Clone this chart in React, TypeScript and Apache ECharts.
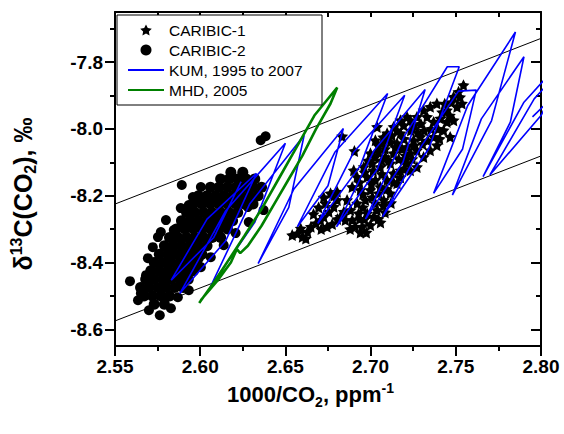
import React, { useEffect, useRef } from "react";
import * as echarts from "echarts";

const FONT = "'Liberation Sans', Arial, sans-serif";

const yMajorTicks = [-8.6, -8.4, -8.2, -8.0, -7.8];
const yMinorTicks = [-8.5, -8.3, -8.1, -7.9, -7.7];

const upperBound = [[2.55, -8.225], [2.80, -7.729]];
const lowerBound = [[2.55, -8.575], [2.80, -8.081]];

const caribic1Low = [
  [2.657, -8.313], [2.66, -8.323], [2.663, -8.308], [2.659, -8.298], [2.665, -8.293],
  [2.668, -8.283], [2.662, -8.328], [2.654, -8.318], [2.671, -8.3],
  [2.6725, -8.263], [2.6755, -8.248], [2.6784, -8.233], [2.6804, -8.213], [2.6765, -8.193],
  [2.6735, -8.223], [2.6706, -8.273], [2.6823, -8.263], [2.6745, -8.293], [2.6804, -8.188],
  [2.6843, -8.248], [2.6833, -8.022], [2.6905, -8.066],
  [2.6862, -8.213], [2.6882, -8.243], [2.6852, -8.273], [2.6892, -8.273], [2.6892, -8.174], [2.6901, -8.124],
  [2.6665, -8.255], [2.6695, -8.235], [2.6725, -8.205], [2.6785, -8.2], [2.6805, -8.27], [2.6775, -8.285],
];
const caribic1Mid = [
  [2.6911, -8.293], [2.695, -8.293], [2.6999, -8.288], [2.693, -8.253], [2.698, -8.253],
  [2.7018, -8.263], [2.6921, -8.223], [2.697, -8.213], [2.7028, -8.223], [2.694, -8.183],
  [2.6999, -8.183], [2.7047, -8.193], [2.6921, -8.144], [2.698, -8.144], [2.7028, -8.153],
  [2.696, -8.114], [2.7009, -8.103], [2.7057, -8.114], [2.6999, -8.073], [2.7047, -8.069],
  [2.7028, -8.034], [2.7067, -8.043], [2.7097, -8.013], [2.7116, -8.039], [2.7087, -8.084],
  [2.7116, -8.103], [2.7135, -8.073], [2.7155, -8.043], [2.7175, -8.013], [2.7135, -7.994],
  [2.7194, -7.989], [2.7214, -7.964], [2.7175, -7.974], [2.7038, -7.994], [2.7097, -8.024],
  [2.7057, -8.174], [2.7097, -8.153], [2.7135, -8.133], [2.7175, -8.124], [2.7214, -8.103],
  [2.7116, -8.193], [2.7077, -8.213], [2.7038, -8.243], [2.7155, -8.163],
  [2.7058, -8.28], [2.7085, -8.25], [2.712, -8.222], [2.694, -8.31], [2.688, -8.3],
  [2.701, -8.205], [2.6955, -8.235], [2.7065, -8.135], [2.7105, -8.095], [2.7015, -8.125],
  [2.6935, -8.27], [2.6965, -8.27], [2.6955, -8.195], [2.6935, -8.16], [2.6965, -8.13],
  [2.7005, -8.165], [2.6985, -8.095], [2.7025, -8.085], [2.7065, -8.095], [2.7045, -8.05],
  [2.7085, -8.06], [2.7075, -8.025], [2.7125, -8.02], [2.7145, -8.055], [2.7155, -8.005],
  [2.7165, -8.09], [2.7175, -8.145], [2.7195, -8.12], [2.7135, -8.16], [2.7095, -8.18],
  [2.7075, -8.23], [2.7045, -8.27], [2.6975, -8.31],
];
const caribic1High = [
  [2.7233, -7.974], [2.7272, -7.964], [2.7311, -7.944], [2.735, -7.934], [2.7389, -7.924],
  [2.7331, -7.964], [2.737, -7.979], [2.7409, -7.969], [2.7448, -7.979], [2.7487, -7.974],
  [2.7428, -8.004], [2.7467, -8.024], [2.737, -8.024], [2.7389, -8.049], [2.735, -8.064],
  [2.7311, -8.084], [2.7272, -8.114], [2.7233, -8.124], [2.7194, -8.094], [2.7487, -7.904],
  [2.7516, -7.889], [2.7545, -7.869], [2.7536, -7.924], [2.7507, -7.934], [2.7448, -7.944],
  [2.7214, -8.054], [2.7252, -8.034], [2.7292, -8.024], [2.7272, -8.064], [2.7233, -8.073],
  [2.7255, -7.99], [2.7295, -7.985], [2.7195, -8.03], [2.7315, -8.005], [2.742, -7.95],
  [2.7185, -8.06], [2.7205, -8.08], [2.7245, -8.09], [2.7255, -8.05], [2.7235, -8.005],
  [2.7275, -8.01], [2.7305, -8.045], [2.7335, -8.035], [2.7355, -8.0], [2.7395, -8.0],
  [2.7405, -8.03], [2.7435, -7.925], [2.7465, -7.96], [2.7475, -7.92], [2.7525, -7.905],
];

const caribic2Outer = [
  [2.6355, -8.034], [2.6384, -8.022], [2.5892, -8.168], [2.6004, -8.174], [2.5588, -8.456],
  [2.5682, -8.438], [2.5693, -8.387], [2.5722, -8.354], [2.5752, -8.324], [2.5769, -8.309],
  [2.5799, -8.273], [2.5845, -8.303], [2.5886, -8.237], [2.5933, -8.228], [2.5957, -8.204],
  [2.5828, -8.372], [2.5635, -8.513], [2.5699, -8.543], [2.5763, -8.558], [2.5828, -8.537],
  [2.5869, -8.504], [2.5933, -8.483], [2.5652, -8.492], [2.6279, -8.234], [2.6372, -8.243],
  [2.6285, -8.279], [2.6208, -8.312], [2.6138, -8.348], [2.6062, -8.384], [2.6004, -8.414],
  [2.5992, -8.387],
];
const caribic2Upper = [
  [2.618, -8.13], [2.625, -8.13],
  [2.612, -8.15], [2.617, -8.15], [2.622, -8.15], [2.627, -8.15], [2.632, -8.15],
  [2.606, -8.175], [2.611, -8.175], [2.616, -8.175], [2.621, -8.175], [2.626, -8.175], [2.631, -8.175], [2.636, -8.175],
  [2.599, -8.2], [2.604, -8.2], [2.609, -8.2], [2.614, -8.2], [2.619, -8.2], [2.624, -8.2], [2.629, -8.2], [2.634, -8.2],
  [2.596, -8.225], [2.601, -8.225], [2.606, -8.225], [2.611, -8.225], [2.616, -8.225], [2.621, -8.225], [2.626, -8.225], [2.631, -8.225],
  [2.592, -8.25], [2.597, -8.25], [2.602, -8.25], [2.607, -8.25], [2.612, -8.25], [2.617, -8.25], [2.622, -8.25],
  [2.589, -8.275], [2.594, -8.275], [2.599, -8.275], [2.604, -8.275], [2.609, -8.275], [2.614, -8.275], [2.619, -8.275],
  [2.586, -8.3], [2.591, -8.3], [2.596, -8.3], [2.601, -8.3], [2.606, -8.3], [2.611, -8.3], [2.616, -8.3],
];
const caribic2Lower = [
  [2.582, -8.325], [2.587, -8.325], [2.592, -8.325], [2.597, -8.325], [2.602, -8.325], [2.607, -8.325], [2.612, -8.325],
  [2.579, -8.35], [2.584, -8.35], [2.589, -8.35], [2.594, -8.35], [2.599, -8.35], [2.604, -8.35],
  [2.576, -8.375], [2.581, -8.375], [2.586, -8.375], [2.591, -8.375], [2.596, -8.375], [2.601, -8.375],
  [2.573, -8.4], [2.578, -8.4], [2.583, -8.4], [2.588, -8.4], [2.593, -8.4], [2.598, -8.4],
  [2.571, -8.425], [2.576, -8.425], [2.581, -8.425], [2.586, -8.425], [2.591, -8.425], [2.596, -8.425],
  [2.568, -8.45], [2.573, -8.45], [2.578, -8.45], [2.583, -8.45], [2.588, -8.45], [2.593, -8.45],
  [2.565, -8.475], [2.57, -8.475], [2.575, -8.475], [2.58, -8.475], [2.585, -8.475], [2.59, -8.475],
  [2.567, -8.5], [2.572, -8.5], [2.577, -8.5], [2.582, -8.5],
  [2.573, -8.525], [2.579, -8.525],
];

const kum = [
  [2.795, -7.964], [2.816, -7.86], [2.83, -7.72], [2.796, -7.91], [2.77, -8.138],
  [2.8, -7.96], [2.822, -7.74], [2.79, -7.92], [2.766, -8.143], [2.782, -7.98],
  [2.79, -7.784], [2.765, -7.97], [2.748, -8.198], [2.771, -7.975], [2.785, -7.71],
  [2.757, -7.93], [2.737, -8.193], [2.754, -8.06], [2.762, -7.884], [2.7516, -7.887],
  [2.73, -8.05], [2.707, -8.263], [2.734, -8.06], [2.752, -7.814], [2.745, -7.814],
  [2.72, -8.02], [2.697, -8.27], [2.719, -8.1], [2.732, -7.882], [2.702, -8.065],
  [2.68, -8.293], [2.704, -8.12], [2.72, -7.899], [2.69, -8.07], [2.669, -8.283],
  [2.694, -8.11], [2.71, -7.894], [2.679, -8.07], [2.657, -8.293], [2.675, -8.17],
  [2.684, -7.999], [2.655, -8.18], [2.634, -8.403], [2.652, -8.235], [2.661, -8.019],
  [2.629, -8.225], [2.606, -8.473], [2.632, -8.28], [2.65, -8.043], [2.615, -8.245],
  [2.588, -8.493], [2.615, -8.335], [2.633, -8.133], [2.604, -8.27], [2.583, -8.453],
  [2.608, -8.325], [2.624, -8.158],
];

const mhd = [
  [2.5994, -8.521], [2.608, -8.46], [2.617, -8.39], [2.626, -8.32], [2.636, -8.24],
  [2.646, -8.15], [2.656, -8.06], [2.667, -7.96], [2.6804, -7.876], [2.6765, -7.924],
  [2.668, -8.0], [2.66, -8.08], [2.652, -8.15], [2.644, -8.22], [2.636, -8.29],
  [2.628, -8.35], [2.6235, -8.372], [2.6215, -8.36], [2.618, -8.4], [2.61, -8.455],
  [2.6003, -8.513],
];

const STAR =
  "path://M50,2L64.7,31.8L97.6,36.5L73.8,59.7L79.4,92.5L50,77L20.6,92.5L26.2,59.7L2.4,36.5L35.3,31.8Z";

const black = "#000";
const richFor = (size: number) => ({
  sup: { fontSize: size, fontWeight: "bold", fontFamily: FONT, color: black, verticalAlign: "top", lineHeight: size + 1 },
  sub: { fontSize: size, fontWeight: "bold", fontFamily: FONT, color: black, verticalAlign: "bottom", lineHeight: size + 1 },
});

function yAxisBase(position: string) {
  return {
    type: "value",
    min: -8.65,
    max: -7.65,
    position,
    splitLine: { show: false },
    axisLabel: { show: false },
  };
}

export default function App() {
  const ref = useRef<HTMLDivElement>(null);
  useEffect(() => {
    if (!ref.current) return;
    const chart = echarts.init(ref.current, undefined, { renderer: "svg" });
    const lineW = { color: black, width: 2 };
    const core = [...caribic2Upper, ...caribic2Lower].map((p) => ({ value: p, symbolSize: 11 }));
    const option: any = {
      animation: false,
      backgroundColor: "#fff",
      textStyle: { fontFamily: FONT },
      grid: { left: 114, right: 23, top: 12, bottom: 88, containLabel: false },
      legend: {
        orient: "vertical",
        left: 117,
        top: 15,
        padding: [6, 10, 6, 10],
        itemGap: 2,
        itemWidth: 36,
        itemHeight: 11,
        borderColor: black,
        borderWidth: 1,
        backgroundColor: "#fff",
        selectedMode: false,
        textStyle: { fontSize: 15.5, color: black, lineHeight: 18, width: 143, fontFamily: FONT },
        data: [
          { name: "CARIBIC-1" },
          { name: "CARIBIC-2" },
          { name: "KUM, 1995 to 2007", itemStyle: { opacity: 0 } },
          { name: "MHD, 2005", itemStyle: { opacity: 0 } },
        ],
      },
      xAxis: [
        {
          type: "value",
          min: 2.55,
          max: 2.8,
          interval: 0.05,
          position: "bottom",
          axisLine: { show: true, onZero: false, lineStyle: lineW },
          axisTick: { show: true, inside: false, length: 10, lineStyle: lineW },
          minorTick: { show: true, splitNumber: 2, length: 5, lineStyle: lineW },
          splitLine: { show: false },
          minorSplitLine: { show: false },
          axisLabel: {
            margin: 11,
            fontSize: 19,
            fontWeight: "bold",
            color: black,
            fontFamily: FONT,
            formatter: (v: number) => v.toFixed(2),
          },
          name: "1000/CO{sub|2}, ppm{sup|-1}",
          nameLocation: "middle",
          nameGap: 24,
          nameTextStyle: {
            fontSize: 22,
            fontWeight: "bold",
            color: black,
            fontFamily: FONT,
            lineHeight: 28,
            padding: [0, 35, 0, 0],
            rich: richFor(14),
          },
        },
        {
          type: "value",
          min: 2.55,
          max: 2.8,
          interval: 0.025,
          position: "top",
          axisLine: { show: true, onZero: false, lineStyle: lineW },
          axisTick: { show: true, inside: true, length: 5, lineStyle: lineW },
          axisLabel: { show: false },
          splitLine: { show: false },
        },
      ],
      yAxis: [
        {
          ...yAxisBase("left"),
          axisLine: { show: true, onZero: false, lineStyle: lineW },
          axisTick: { show: true, customValues: yMajorTicks, length: 10, lineStyle: lineW },
          axisLabel: {
            show: true,
            customValues: yMajorTicks,
            margin: 12,
            fontSize: 19,
            fontWeight: "bold",
            color: black,
            fontFamily: FONT,
            formatter: (v: number) => v.toFixed(1),
          },
          name: "δ{sup|13}C(CO{sub|2}), ‰",
          nameLocation: "middle",
          nameRotate: 90,
          nameGap: 77,
          nameTextStyle: {
            fontSize: 25,
            fontWeight: "bold",
            color: black,
            fontFamily: FONT,
            lineHeight: 30,
            padding: [0, 30, 0, 0],
            rich: richFor(16),
          },
        },
        {
          ...yAxisBase("left"),
          axisLine: { show: false },
          axisTick: { show: true, customValues: yMinorTicks, length: 5, lineStyle: lineW },
        },
        {
          ...yAxisBase("right"),
          axisLine: { show: true, onZero: false, lineStyle: lineW },
          axisTick: { show: true, inside: true, customValues: yMajorTicks, length: 10, lineStyle: lineW },
        },
        {
          ...yAxisBase("right"),
          axisLine: { show: false },
          axisTick: { show: true, inside: true, customValues: yMinorTicks, length: 5, lineStyle: lineW },
        },
      ],
      series: [
        {
          name: "upper bound",
          type: "line",
          data: upperBound,
          symbol: "none",
          silent: true,
          lineStyle: { color: black, width: 1 },
          itemStyle: { color: black },
        },
        {
          name: "lower bound",
          type: "line",
          data: lowerBound,
          symbol: "none",
          silent: true,
          lineStyle: { color: black, width: 1 },
          itemStyle: { color: black },
        },
        {
          name: "CARIBIC-1",
          type: "scatter",
          symbol: STAR,
          symbolSize: 12,
          itemStyle: { color: black, opacity: 1 },
          data: [...caribic1Low, ...caribic1Mid, ...caribic1High],
        },
        {
          name: "CARIBIC-2",
          type: "scatter",
          symbol: "circle",
          symbolSize: 10,
          itemStyle: { color: black, opacity: 1 },
          data: [...caribic2Outer, ...core],
        },
        {
          name: "KUM, 1995 to 2007",
          type: "line",
          data: kum,
          symbol: "none",
          clip: true,
          lineStyle: { color: "#0000ff", width: 1.6 },
          itemStyle: { color: "#0000ff" },
        },
        {
          name: "MHD, 2005",
          type: "line",
          data: mhd,
          symbol: "none",
          clip: true,
          lineStyle: { color: "#008000", width: 2.6 },
          itemStyle: { color: "#008000" },
        },
      ],
    };
    chart.setOption(option);
    return () => chart.dispose();
  }, []);
  return (
    <div
      ref={ref}
      style={{ position: "fixed", left: 0, top: 0, width: 564, height: 434, background: "#fff" }}
    />
  );
}
